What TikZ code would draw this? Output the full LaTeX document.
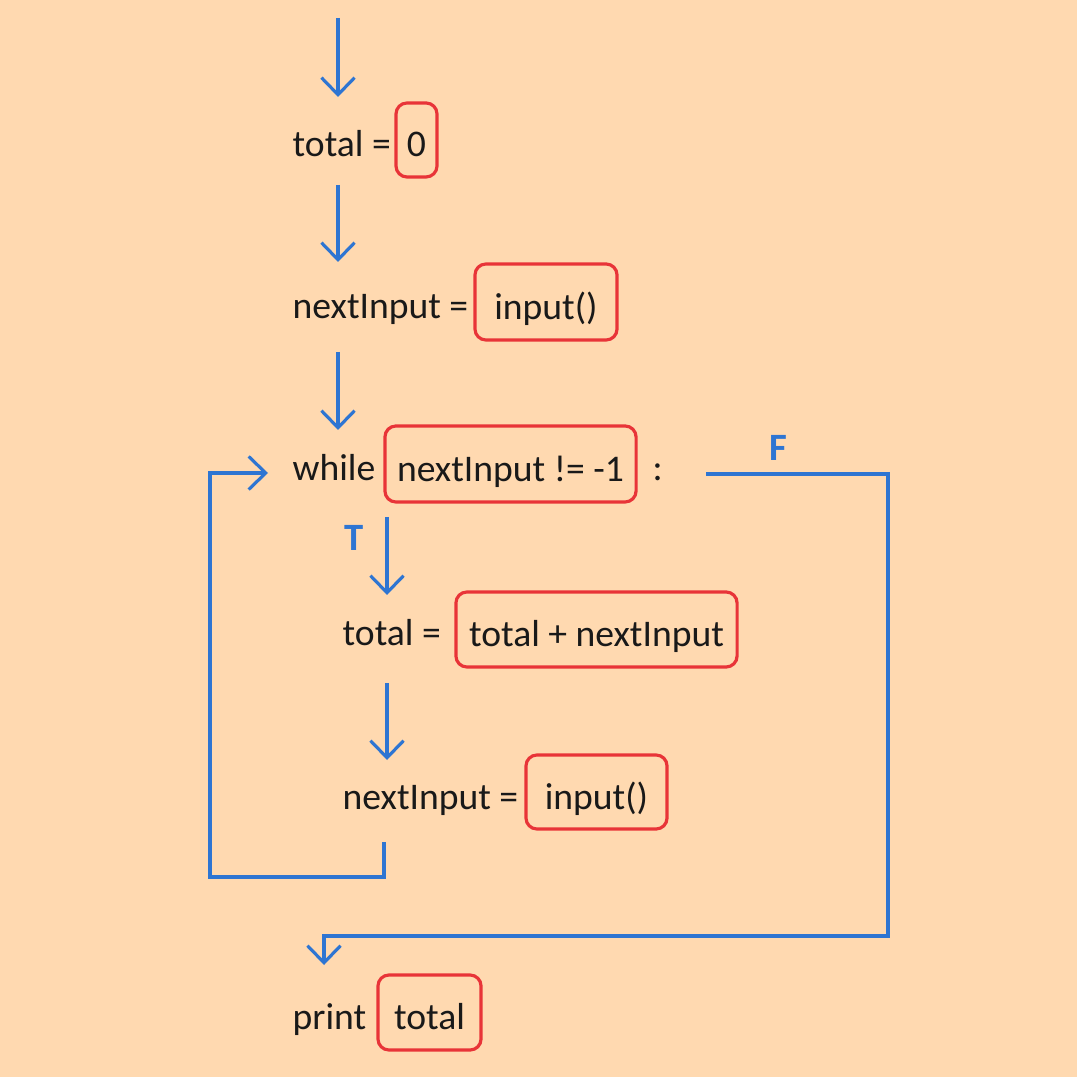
\documentclass[tikz,border=0pt]{standalone}
\usepackage{fontspec}
\setmainfont{Carlito}
\usetikzlibrary{arrows.meta,positioning}
\definecolor{peach}{RGB}{255,217,176}
\definecolor{flowblue}{RGB}{46,117,210}
\definecolor{slotred}{RGB}{232,52,56}
\definecolor{ink}{RGB}{25,25,25}
\tikzset{
  code/.style={anchor=base west, inner sep=0pt, text=ink, font=\fontsize{10.7}{13}\selectfont},
  slot/.style={rectangle, rounded corners=1.1mm, draw=slotred, line width=0.9pt, inner sep=0pt,
    text=ink, text height=0.40cm, text depth=0.06cm, font=\fontsize{10.7}{13}\selectfont},
  flow/.style={-{Straight Barb[length=1.7mm,width=3.3mm]}, draw=flowblue, line width=0.9pt},
  wire/.style={draw=flowblue, line width=0.9pt},
  tag/.style={inner sep=0pt, text=flowblue, font=\fontsize{11}{13}\selectfont\bfseries}
}

\begin{document}
\begin{tikzpicture}[x=0.01cm, y=-0.01cm]
  \fill[peach] (0,0) rectangle (1077,1077);
  \useasboundingbox (0,0) rectangle (1077,1077);

  % statements
  \node[code] (tot1) at (292,157) {total =};
  \node[slot, minimum width=0.41cm, minimum height=0.74cm] (zero) at (416.5,140) {0};
  \node[code] (nxt1) at (292,319) {nextInput =};
  \node[slot, minimum width=1.42cm, minimum height=0.76cm] (inp1) at (546,302) {input()};
  \node[code] (whl) at (292,481) {while};
  \node[slot, minimum width=2.51cm, minimum height=0.76cm] (cond) at (510.5,464) {nextInput != -1};
  \node[code] (colon) at (652,481) {:};
  \node[code] (tot2) at (342,646) {total =};
  \node[slot, minimum width=2.81cm, minimum height=0.75cm] (sum) at (596.5,629.5) {total + nextInput};
  \node[code] (nxt2) at (342,809) {nextInput =};
  \node[slot, minimum width=1.41cm, minimum height=0.74cm] (inp2) at (596.5,792) {input()};
  \node[code] (prt) at (292,1029) {print};
  \node[slot, minimum width=1.03cm, minimum height=0.75cm] (out) at (429.5,1012.5) {total};

  % branch labels
  \node[tag] (fal) at (778,448) {F};
  \node[tag] (tru) at (354,538) {T};

  % straight flow
  \foreach \n/\x/\a/\b in {0/338/18/97, 1/338/185/262, 2/338/352/430, 3/387/517/595, 4/387/683/760} {
    \coordinate (s\n) at (\x,\a);
    \coordinate (e\n) at (\x,\b);
    \draw[flow] (s\n) -- (e\n);
  }

  % loop back
  \coordinate (lpA) at (384,842);
  \coordinate (lpB) at (268,473);
  \draw[flow] (lpA) -- (384,877) -- (210,877) -- (210,473) -- (lpB);

  % exit
  \coordinate (exA) at (706,474);
  \coordinate (exB) at (324,965);
  \draw[flow] (exA) -- (888,474) -- (888,936) -- (324,936) -- (exB);
\end{tikzpicture}
\end{document}
